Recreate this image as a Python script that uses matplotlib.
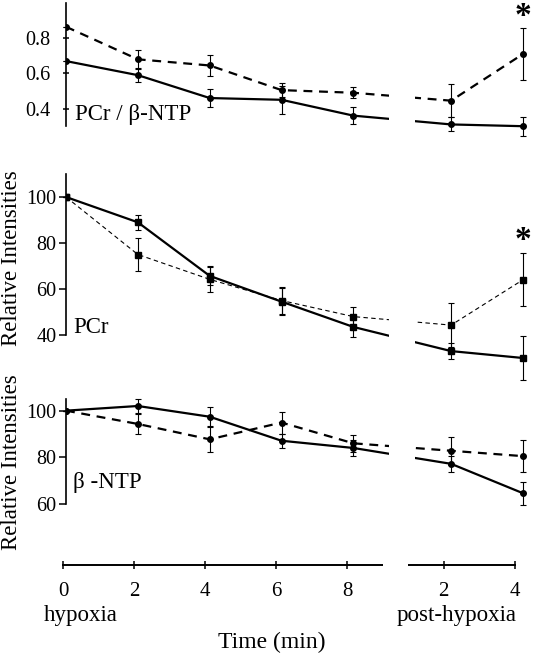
import numpy as np
import matplotlib
matplotlib.use("Agg")
import matplotlib.pyplot as plt

plt.rcParams['font.family'] = ['Liberation Serif', 'DejaVu Serif']

# --- data ---
t_hyp = [0, 2, 4, 6, 8]          # min during hypoxia
t_post = [2, 4]                  # min after hypoxia
tick_labels = ['0', '2', '4', '6', '8', '2', '4']

ratio_solid = [0.67, 0.59, 0.46, 0.45, 0.36, 0.31, 0.30]
ratio_solid_err = [0, 0.04, 0.05, 0.08, 0.05, 0.04, 0.055]
ratio_dash = [0.865, 0.68, 0.645, 0.505, 0.49, 0.445, 0.71]
ratio_dash_err = [0, 0.055, 0.06, 0.04, 0.03, 0.095, 0.15]

pcr_solid = [100, 89, 65.7, 54.5, 43.5, 33, 30]
pcr_solid_err = [0, 3.2, 4.1, 5.8, 4.3, 3.4, 9.6]
pcr_dash = [100, 75, 64.2, 55, 48, 44.3, 64]
pcr_dash_err = [0, 7, 5.5, 6, 4, 9.6, 11.5]

ntp_solid = [100, 102, 97.4, 87.1, 84, 77.2, 64.6]
ntp_solid_err = [0, 2.9, 4, 2.9, 3.6, 3.3, 5]
ntp_dash = [100, 94.3, 87.7, 94.9, 86, 82.8, 80.5]
ntp_dash_err = [0, 4.3, 5.3, 4.7, 3.6, 6, 6.8]

# layout of the broken time axis
post_offset = 8.72     # where post-hypoxia minute 0 would sit
gap = (9.0, post_offset + 1.0)
x = np.array(t_hyp + [post_offset + p for p in t_post])

W, H = 533, 664
fig = plt.figure(figsize=(W / 100, H / 100), dpi=100)


def px_axes(left, top, right, bottom):
    return fig.add_axes([left / W, 1 - bottom / H, (right - left) / W, (bottom - top) / H])


def panel(ax, solid, solid_err, dash, dash_err, ylim, spine_lo, yticks, dash_lw,
          marker, tickdir, pad):
    ax.plot(x, solid, '-', color='k', lw=1.6, marker=marker, ms=4, zorder=3)
    ax.errorbar(x, solid, yerr=solid_err, fmt='none', ecolor='k', elinewidth=0.8,
                capsize=2.5, capthick=0.8, zorder=3, clip_on=False)
    ax.plot(x, dash, color='k', lw=dash_lw, dashes=(4, 3), marker=marker, ms=4, zorder=3)
    ax.errorbar(x, dash, yerr=dash_err, fmt='none', ecolor='k', elinewidth=0.8,
                capsize=2.5, capthick=0.8, zorder=3, clip_on=False)
    ax.axvspan(gap[0], gap[1], color='white', zorder=4, lw=0)
    ax.set_xlim(0, 13)
    ax.set_ylim(*ylim)
    ax.set_yticks(yticks)
    ax.set_xticks([])
    for s in ['top', 'right', 'bottom']:
        ax.spines[s].set_visible(False)
    ax.spines['left'].set_bounds(spine_lo, ylim[1])
    ax.spines['left'].set_linewidth(1.2)
    ax.tick_params(axis='y', direction=tickdir, length=5, width=1.1, labelsize=14.5, pad=pad)
    ax.patch.set_alpha(0)


# top panel: PCr / beta-NTP ratio  (0.3 at y=126 px, 1.0 at y=3 px)
ax1 = px_axes(66, 3, 533, 135)
panel(ax1, ratio_solid, ratio_solid_err, ratio_dash, ratio_dash_err,
      (0.25, 1.0), 0.3, [0.4, 0.6, 0.8], 1.6, 'o', 'inout', 9)
ax1.text(0.25, 0.366, 'PCr / β-NTP', fontsize=16.5, va='center')
ax1.text(x[-1], 0.926, '*', fontsize=24, fontweight='bold', ha='center', va='center')

# middle panel: PCr  (40 at y=335 px, 110 at y=174 px)
ax2 = px_axes(66, 174, 533, 369.5)
panel(ax2, pcr_solid, pcr_solid_err, pcr_dash, pcr_dash_err,
      (25, 110), 40, [40, 60, 80, 100], 0.8, 's', 'out', 2)
ax2.text(0.2, 43.3, 'PCr', fontsize=16.5, va='center')
ax2.text(x[-1], 80.9, '*', fontsize=24, fontweight='bold', ha='center', va='center')

# bottom panel: beta-NTP  (60 at y=504 px, 105 at y=399 px)
ax3 = px_axes(66, 399, 533, 515.6)
panel(ax3, ntp_solid, ntp_solid_err, ntp_dash, ntp_dash_err,
      (55, 105), 60, [60, 80, 100], 1.6, 'o', 'out', 2)
ax3.text(0.2, 69, 'β -NTP', fontsize=16.5, va='center')

# shared time axis with a break
axt = px_axes(63, 560, 524.5, 565)
axt.set_xlim(0, 13)
axt.set_ylim(0, 1)
for s in ['top', 'right', 'left']:
    axt.spines[s].set_visible(False)
axt.spines['bottom'].set_bounds(0, x[-1])
axt.spines['bottom'].set_linewidth(1.4)
axt.set_yticks([])
axt.set_xticks(x)
axt.set_xticklabels(tick_labels)
axt.tick_params(axis='x', direction='inout', length=6, width=1.1, labelsize=15, pad=9)
axt.axvspan(gap[0], gap[1], ymin=-1, ymax=1, color='white', zorder=5, lw=0, clip_on=False)
axt.patch.set_alpha(0)

fig.text(81 / W, 1 - 615 / H, 'hypoxia', fontsize=16.5, ha='center', va='center')
fig.text(457 / W, 1 - 615 / H, 'post-hypoxia', fontsize=16.5, ha='center', va='center')
fig.text(272 / W, 1 - 642 / H, 'Time (min)', fontsize=17, ha='center', va='center')

fig.text(12 / W, 1 - 258 / H, 'Relative Intensities', rotation=90, fontsize=16.5,
         ha='center', va='center')
fig.text(12 / W, 1 - 462 / H, 'Relative Intensities', rotation=90, fontsize=16.5,
         ha='center', va='center')

fig.savefig('out.png', dpi=100)
